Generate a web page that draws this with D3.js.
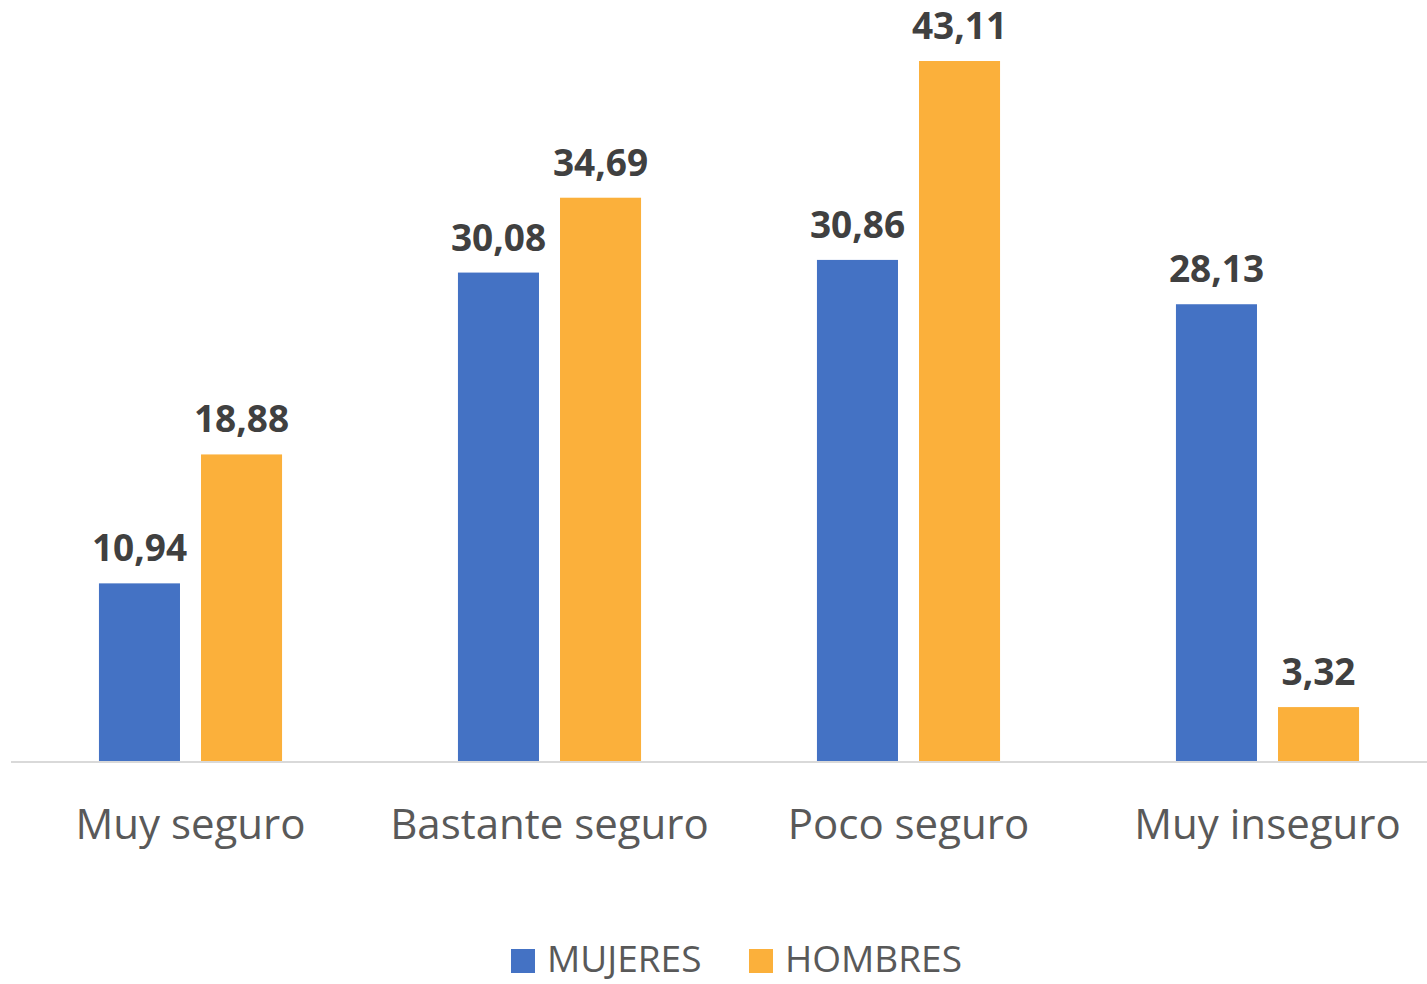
<!DOCTYPE html>
<html>
<head>
<meta charset="utf-8">
<script src="https://cdn.jsdelivr.net/npm/d3@7"></script>
<style>
  html, body { margin: 0; padding: 0; background: #fff; overflow: hidden; }
  svg { display: block; font-family: "Open Sans", "Noto Sans", sans-serif; }
</style>
</head>
<body>
<svg width="1427" height="984"></svg>
<script>
const categories = ["Muy seguro", "Bastante seguro", "Poco seguro", "Muy inseguro"];
const seriesNames = ["MUJERES", "HOMBRES"];
const mujeres = [10.94, 30.08, 30.86, 28.13];
const hombres = [18.88, 34.69, 43.11, 3.32];
const colors = ["#4472c4", "#fbb03b"];

const fmt = v => d3.format(".2f")(v).replace(".", ",");

const svg = d3.select("svg");
const width = +svg.attr("width");
const height = +svg.attr("height");

const baseline = 761;
const left = 11;
const step = 359;

const x0 = d3.scaleBand()
    .domain(categories)
    .range([left, left + step * categories.length])
    .paddingInner(0.49)
    .paddingOuter(0.245);

const x1 = d3.scaleBand()
    .domain(seriesNames)
    .range([0, x0.bandwidth()])
    .paddingInner(0.206);

const y = d3.scaleLinear()
    .domain([0, d3.max(hombres.concat(mujeres))])
    .range([baseline, 61]);

const rows = categories.map((c, i) => ({
    cat: c,
    values: [
        { name: seriesNames[0], v: mujeres[i] },
        { name: seriesNames[1], v: hombres[i] }
    ]
}));

// axis line
svg.append("line")
    .attr("x1", left)
    .attr("x2", width)
    .attr("y1", baseline + 1)
    .attr("y2", baseline + 1)
    .attr("stroke", "#d9d9d9")
    .attr("stroke-width", 2);

const groups = svg.selectAll("g.group")
    .data(rows)
    .enter()
    .append("g")
    .attr("class", "group")
    .attr("transform", d => `translate(${x0(d.cat)},0)`);

groups.selectAll("rect")
    .data(d => d.values)
    .enter()
    .append("rect")
    .attr("x", d => x1(d.name))
    .attr("y", d => y(d.v))
    .attr("width", x1.bandwidth())
    .attr("height", d => baseline - y(d.v))
    .attr("fill", (d, i) => colors[i]);

groups.selectAll("text.value")
    .data(d => d.values)
    .enter()
    .append("text")
    .attr("class", "value")
    .attr("x", d => x1(d.name) + x1.bandwidth() / 2)
    .attr("y", d => y(d.v) - 22)
    .attr("text-anchor", "middle")
    .attr("font-size", 37)
    .attr("font-weight", "bold")
    .attr("fill", "#404040")
    .text(d => fmt(d.v));

// category labels
svg.selectAll("text.cat")
    .data(categories)
    .enter()
    .append("text")
    .attr("class", "cat")
    .attr("x", d => x0(d) + x0.bandwidth() / 2)
    .attr("y", 839)
    .attr("text-anchor", "middle")
    .attr("font-size", 42)
    .attr("fill", "#595959")
    .text(d => d);

// legend (pulled up a little so the text is not clipped by the bottom edge)
const legendX = [511, 749];
const legend = svg.selectAll("g.legend")
    .data(seriesNames)
    .enter()
    .append("g")
    .attr("class", "legend")
    .attr("transform", (d, i) => `translate(${legendX[i]},0)`);

legend.append("rect")
    .attr("x", 0)
    .attr("y", 949)
    .attr("width", 24)
    .attr("height", 24)
    .attr("fill", (d, i) => colors[i]);

legend.append("text")
    .attr("x", 36)
    .attr("y", 972)
    .attr("font-size", 37)
    .attr("fill", "#595959")
    .text(d => d);
</script>
</body>
</html>
